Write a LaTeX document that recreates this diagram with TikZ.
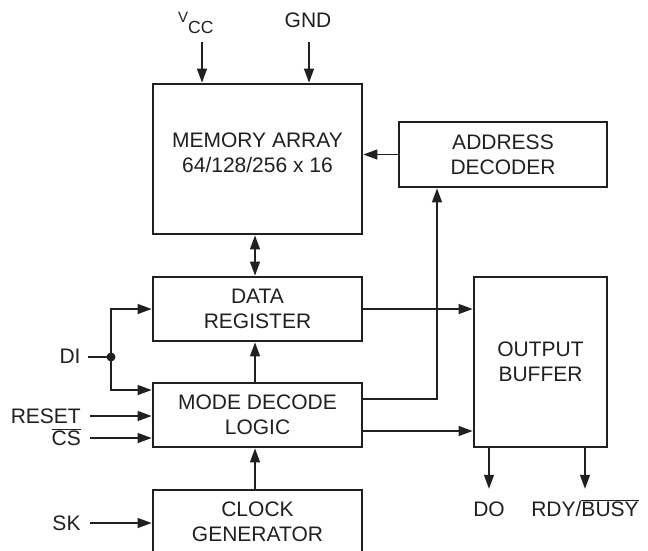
\documentclass[tikz,border=0pt]{standalone}
\usepackage{fontspec}
\setmainfont{Liberation Sans}
\usetikzlibrary{arrows.meta}
\definecolor{ink}{HTML}{231F20}
\begin{document}
\begin{tikzpicture}[x=1pt,y=-1pt,
  box/.style={draw=ink,line width=2.8pt,inner sep=0pt,align=center,text=ink,font=\fontsize{21}{25}\selectfont},
  boxtext/.style={inner sep=0pt,align=center,text=ink,font=\fontsize{21}{25}\selectfont},
  lbl/.style={inner sep=0pt,text=ink,font=\fontsize{21}{25}\selectfont,text height=15pt,text depth=0pt},
  arr/.style={draw=ink,line width=1.3pt,-{Triangle[length=14pt,width=10pt]}},
  darr/.style={draw=ink,line width=1.3pt,{Triangle[length=14pt,width=10pt]}-{Triangle[length=14pt,width=10pt]}},
  wire/.style={draw=ink,line width=1.3pt}]
\clip (0,0) rectangle (648,550);
\fill[white] (0,0) rectangle (648,550);

% boxes
\node[box,minimum width=209pt,minimum height=150pt] (mem) at (257.5,159) {};
\node[boxtext] (memtxt) at (257.5,153) {MEMORY ARRAY\\64/128/256 x 16};
\node[box,minimum width=208pt,minimum height=65pt] (addr) at (503,154.5) {ADDRESS\\DECODER};
\node[box,minimum width=209pt,minimum height=64pt] (data) at (257.5,309) {DATA\\REGISTER};
\node[box,minimum width=209pt,minimum height=64pt] (mode) at (257.5,415) {MODE DECODE\\LOGIC};
\node[box,minimum width=209pt,minimum height=64pt] (clock) at (257.5,522) {CLOCK\\GENERATOR};
\node[box,minimum width=133pt,minimum height=170pt] (out) at (540.5,362) {OUTPUT\\BUFFER};

% top labels
\node[inner sep=0pt,anchor=north west,text=ink] (vcc) at (178,11.5) {{\fontsize{15}{15}\selectfont V}\raisebox{-11.5pt}{\fontsize{17.5}{17.5}\selectfont CC}};
\node[lbl,anchor=north] (gnd) at (308,12) {GND};
\coordinate (vcct) at (202,42);
\coordinate (gndt) at (309,42);
\draw[arr] (vcct) -- (vcct |- mem.north);
\draw[arr] (gndt) -- (gndt |- mem.north);

% internal connectors
\coordinate (vx) at (255,0);
\draw[arr] (addr.west) -- (addr.west -| mem.east);
\draw[darr] (mem.south -| vx) -- (data.north -| vx);
\draw[arr] (mode.north -| vx) -- (data.south -| vx);
\draw[arr] (clock.north -| vx) -- (mode.south -| vx);
\draw[arr] (data.east) -- (data.east -| out.west);
\coordinate (m1) at (362,399);
\coordinate (m2) at (362,431);
\coordinate (ax) at (437,0);
\draw[arr] (m1) -| (ax |- addr.south);
\draw[arr] (m2) -- (m2 -| out.west);

% left inputs
\node[lbl] (di) at (70,356) {DI};
\coordinate (dis) at (88,357);
\coordinate (j) at (111,357);
\draw[wire] (dis) -- (j);
\draw[arr] (j) |- (data.west);
\draw[arr] (j) |- ([yshift=25pt]mode.west);
\fill[ink] (j) circle (4.5pt);

\node[lbl,anchor=east] (reset) at (81,416) {RESET};
\draw[arr] ([xshift=9pt]reset.east) -- (reset.east -| mode.west);
\node[lbl,anchor=east] (cs) at (81,438) {$\overline{\mbox{CS}}$};
\draw[arr] ([xshift=9pt]cs.east) -- (cs.east -| mode.west);
\node[lbl] (sk) at (66.5,523) {SK};
\draw[arr] ([xshift=9pt]sk.east) -- (sk.east -| clock.west);

% outputs
\node[lbl] (do) at (489,509) {DO};
\node[lbl] (rdy) at (585,509) {RDY/$\overline{\mbox{BUSY}}$};
\draw[arr] (out.south -| do) -- ([yshift=12.5pt]do.north);
\draw[arr] (out.south -| rdy) -- ([yshift=12.5pt]rdy.north);
\end{tikzpicture}
\end{document}
